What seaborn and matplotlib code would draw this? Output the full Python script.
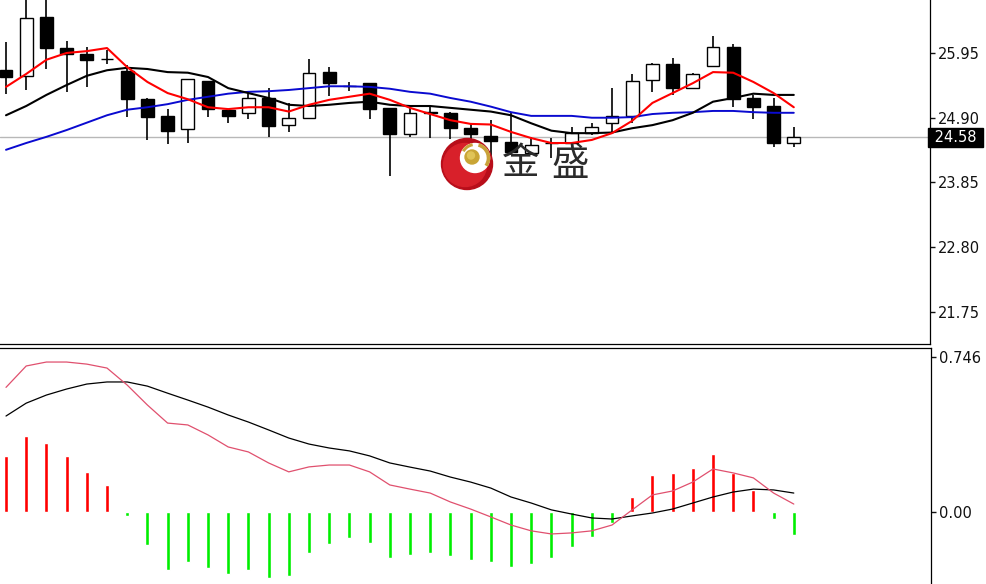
import numpy as np
import pandas as pd
import matplotlib
matplotlib.use("Agg")
import matplotlib.pyplot as plt
import matplotlib.transforms as mtransforms
from matplotlib.patches import Circle, Arc
import seaborn as sns

# ---- price candles (open, high, low, close) ----
opens = [25.67, 25.58, 26.53, 26.03, 25.93, 25.85, 25.66, 25.20, 24.93, 24.72,
         25.50, 25.03, 24.98, 25.22, 24.78, 24.90, 25.64, 25.41, 25.46, 25.06,
         24.64, 25.00, 24.98, 24.73, 24.60, 24.51, 24.33, 24.49, 24.49, 24.65,
         24.82, 24.93, 25.51, 25.77, 25.38, 25.74, 26.05, 25.22, 25.09, 24.49]
highs = [26.13, 27.00, 26.95, 26.14, 26.05, 26.00, 25.76, 25.22, 25.04, 25.53,
         25.50, 25.03, 25.30, 25.38, 25.14, 25.85, 25.72, 25.48, 25.46, 25.06,
         25.06, 25.09, 25.00, 24.80, 24.86, 25.00, 24.59, 24.57, 24.75, 24.82,
         25.38, 25.61, 25.79, 25.87, 25.63, 26.23, 26.10, 25.27, 25.22, 24.75]
lows = [25.29, 25.35, 25.69, 25.32, 25.40, 25.77, 24.91, 24.54, 24.47, 24.49,
        24.91, 24.82, 24.88, 24.59, 24.67, 24.90, 25.25, 25.33, 24.88, 23.96,
        24.59, 24.57, 24.55, 24.55, 24.26, 24.30, 24.30, 24.25, 24.45, 24.62,
        24.67, 24.82, 25.32, 25.27, 25.38, 25.74, 25.07, 24.88, 24.43, 24.43]
closes = [25.56, 26.52, 26.03, 25.93, 25.84, 25.85, 25.20, 24.91, 24.69, 25.53,
          25.04, 24.93, 25.22, 24.77, 24.90, 25.63, 25.46, 25.41, 25.04, 24.64,
          24.98, 24.97, 24.73, 24.64, 24.52, 24.35, 24.46, 24.49, 24.65, 24.75,
          24.93, 25.50, 25.77, 25.38, 25.61, 26.05, 25.20, 25.07, 24.49, 24.58]

# ---- moving averages ----
ma_fast = [25.40, 25.61, 25.84, 25.95, 25.98, 26.03, 25.72, 25.48, 25.30, 25.20,
           25.07, 25.04, 25.07, 25.07, 25.00, 25.11, 25.19, 25.24, 25.29, 25.19,
           25.06, 24.96, 24.86, 24.80, 24.79, 24.67, 24.57, 24.49, 24.49, 24.54,
           24.65, 24.85, 25.14, 25.30, 25.46, 25.64, 25.63, 25.48, 25.30, 25.07]
ma_mid = [24.94, 25.09, 25.27, 25.43, 25.58, 25.67, 25.71, 25.69, 25.64, 25.63,
          25.56, 25.38, 25.30, 25.22, 25.11, 25.09, 25.11, 25.14, 25.16, 25.11,
          25.09, 25.09, 25.06, 25.03, 25.00, 24.94, 24.81, 24.69, 24.65, 24.65,
          24.66, 24.73, 24.78, 24.86, 24.98, 25.16, 25.22, 25.29, 25.27, 25.27]
ma_slow = [24.38, 24.49, 24.59, 24.70, 24.82, 24.94, 25.03, 25.07, 25.12, 25.19,
           25.24, 25.29, 25.32, 25.33, 25.35, 25.38, 25.41, 25.41, 25.40, 25.37,
           25.32, 25.29, 25.22, 25.16, 25.08, 24.99, 24.93, 24.93, 24.93, 24.90,
           24.90, 24.91, 24.96, 24.98, 24.99, 25.01, 25.01, 24.99, 24.98, 24.98]

# ---- MACD ----
macd_hist = [0.27, 0.366, 0.332, 0.27, 0.193, 0.13, -0.02, -0.16, -0.28, -0.24,
             -0.27, -0.30, -0.28, -0.32, -0.31, -0.20, -0.155, -0.125, -0.15, -0.22,
             -0.207, -0.20, -0.21, -0.23, -0.24, -0.265, -0.25, -0.22, -0.17, -0.12,
             -0.053, 0.072, 0.178, 0.188, 0.212, 0.279, 0.188, 0.106, -0.034, -0.11]
macd_fast = [0.60, 0.703, 0.722, 0.722, 0.712, 0.693, 0.611, 0.515, 0.428, 0.419,
             0.371, 0.313, 0.289, 0.236, 0.193, 0.217, 0.226, 0.226, 0.193, 0.13,
             0.11, 0.091, 0.048, 0.014, -0.024, -0.063, -0.091, -0.106, -0.101, -0.091,
             -0.063, 0.01, 0.082, 0.101, 0.144, 0.207, 0.188, 0.164, 0.091, 0.038]
macd_slow = [0.462, 0.524, 0.563, 0.592, 0.616, 0.626, 0.626, 0.606, 0.572, 0.539,
             0.505, 0.467, 0.433, 0.395, 0.356, 0.327, 0.308, 0.294, 0.27, 0.236,
             0.216, 0.197, 0.168, 0.144, 0.115, 0.072, 0.043, 0.01, -0.01, -0.029,
             -0.034, -0.019, -0.005, 0.014, 0.043, 0.072, 0.096, 0.11, 0.106, 0.091]

price_ticks = [25.95, 24.90, 23.85, 22.80, 21.75]
macd_ticks = [0.746, 0.00]
macd_tick_labels = ["0.746", "0.00"]
last_price = 24.58

sns.set_style("white")
plt.rcParams["font.family"] = ["DejaVu Sans"]

W, H = 986, 584
fig = plt.figure(figsize=(W / 100, H / 100), dpi=100)
fig.patch.set_facecolor("white")


def box(x0, y0, x1, y1):
    """pixel box (top-left origin) -> figure fraction rect"""
    return [x0 / W, 1 - y1 / H, (x1 - x0) / W, (y1 - y0) / H]


step = 20.2          # pixel spacing between bars
first = 6            # pixel centre of the first bar
ax = fig.add_axes(box(0, 0, 930, 344))
axm = fig.add_axes(box(0, 347.5, 931, 584))

df = pd.DataFrame({
    "i": np.arange(len(closes)), "open": opens, "high": highs, "low": lows,
    "close": closes, "ma_fast": ma_fast, "ma_mid": ma_mid, "ma_slow": ma_slow,
    "hist": macd_hist, "dif": macd_fast, "dea": macd_slow,
})

# ---------- price panel ----------
ax.axhline(last_price, color="#b8b8b8", lw=1.0, zorder=1)
ax.vlines(df["i"], df["low"], df["high"], color="black", lw=1.2, zorder=2)
up = df["close"] >= df["open"]
body_lo = np.minimum(df["open"], df["close"])
body_h = (df["close"] - df["open"]).abs()
ax.bar(df["i"][up], body_h[up], bottom=body_lo[up], width=0.64,
       color="white", edgecolor="black", linewidth=1.0, zorder=3)
ax.bar(df["i"][~up], body_h[~up], bottom=body_lo[~up], width=0.64,
       color="black", edgecolor="black", linewidth=1.0, zorder=3)

sns.lineplot(data=df, x="i", y="ma_slow", ax=ax, color="#0a0ad0", lw=1.4,
             estimator=None, zorder=4)
sns.lineplot(data=df, x="i", y="ma_mid", ax=ax, color="black", lw=1.5,
             estimator=None, zorder=5)
sns.lineplot(data=df, x="i", y="ma_fast", ax=ax, color="#ff0000", lw=1.5,
             estimator=None, zorder=6)

x_lo = (0 - first) / step
ax.set_xlim(x_lo, x_lo + 930 / step)
ax.set_ylim(21.231, 26.809)

# ---------- MACD panel ----------
bar_cols = np.where(df["hist"] >= 0, "#ff0000", "#00ee00")
axm.bar(df["i"], df["hist"], width=0.2, color=bar_cols, zorder=2)
sns.lineplot(data=df, x="i", y="dea", ax=axm, color="black", lw=0.9,
             estimator=None, zorder=3)
sns.lineplot(data=df, x="i", y="dif", ax=axm, color="#e0506e", lw=0.9,
             estimator=None, zorder=4)
axm.set_xlim(x_lo, x_lo + 931 / step)
axm.set_ylim(-0.347, 0.792)

# ---------- axes styling ----------
for a, ticks in ((ax, price_ticks), (axm, macd_ticks)):
    a.set_xlabel("")
    a.set_ylabel("")
    a.set_xticks([])
    a.yaxis.tick_right()
    a.set_yticks(ticks)
    a.tick_params(axis="y", direction="out", length=3.5, width=1.0,
                  pad=2.5, labelsize=10.5, colors="#111111")
    for s in a.spines.values():
        s.set_color("black")
        s.set_linewidth(0.9)
    a.spines["left"].set_visible(False)
    a.set_facecolor("white")

ax.spines["top"].set_visible(False)
axm.spines["bottom"].set_visible(False)
ax.set_yticklabels([f"{t:.2f}" for t in price_ticks])
axm.set_yticklabels(macd_tick_labels)

# current price tag on the axis
trans = mtransforms.blended_transform_factory(ax.transAxes, ax.transData)
ax.text(1.0, last_price, f" {last_price:.2f} ", transform=trans,
        ha="left", va="center", fontsize=10.5, color="white", clip_on=False,
        zorder=10,
        bbox=dict(boxstyle="square,pad=0.12", fc="black", ec="black"))

# ---------- brand watermark ----------
logo = fig.add_axes(box(437, 134, 497, 194))
logo.set_xlim(0, 60)
logo.set_ylim(60, 0)
logo.set_aspect("equal")
logo.axis("off")
logo.add_patch(Circle((30, 30), 25.5, color="#b80e1a"))
logo.add_patch(Circle((28, 31), 21.5, color="#d8202a"))
logo.add_patch(Circle((38, 24), 14.5, color="white"))
logo.add_patch(Arc((38, 24), 27, 27, theta1=-75, theta2=35,
                   color="#c9a23a", lw=2.6))
logo.add_patch(Arc((38, 24), 27, 27, theta1=210, theta2=260,
                   color="#c9a23a", lw=2.2))
logo.add_patch(Circle((35, 23), 7, color="#c9a535"))
logo.add_patch(Circle((34, 21.5), 3.5, color="#e0c458"))

cjk = ["Noto Sans CJK SC", "DejaVu Sans"]
fig.text(521 / W, 1 - 163 / H, "金", family=cjk, fontsize=27,
         color="#2b2b2b", ha="center", va="center")
fig.text(570 / W, 1 - 164 / H, "盛", family=cjk, fontsize=27,
         color="#2b2b2b", ha="center", va="center")

fig.savefig("out.png", dpi=100, facecolor="white")
